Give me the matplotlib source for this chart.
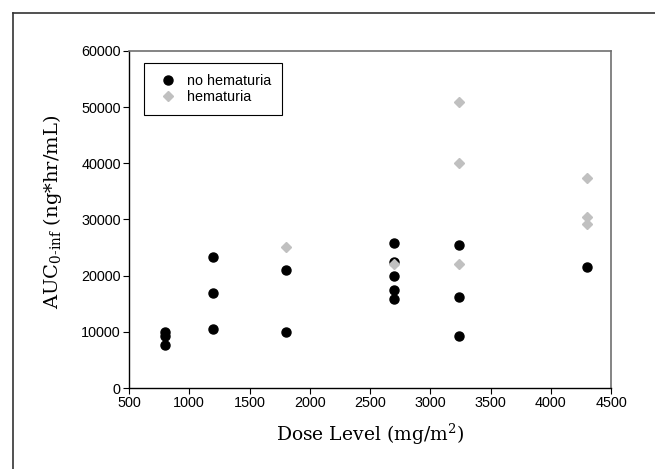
import matplotlib
matplotlib.use('Agg')
import matplotlib.pyplot as plt
from matplotlib.lines import Line2D

# data
no_hem_dose = [800, 800, 800, 1200, 1200, 1200, 1800, 1800,
               2700, 2700, 2700, 2700, 2700, 3240, 3240, 3240, 4300]
no_hem_auc = [10000, 9200, 7700, 23400, 17000, 10500, 21000, 9900,
              25900, 22400, 20000, 17400, 15800, 25400, 16200, 9300, 21600]
hem_dose = [1800, 2700, 3240, 3240, 3240, 4300, 4300, 4300]
hem_auc = [25100, 22100, 51000, 40100, 22100, 37300, 30500, 29200]

x_ticks = [500, 1000, 1500, 2000, 2500, 3000, 3500, 4000, 4500]
y_ticks = [0, 10000, 20000, 30000, 40000, 50000, 60000]

plt.rcParams['font.family'] = 'Liberation Sans'
plt.rcParams['mathtext.fontset'] = 'custom'
plt.rcParams['mathtext.rm'] = 'DejaVu Serif'
plt.rcParams['mathtext.it'] = 'DejaVu Serif:italic'

fig = plt.figure(figsize=(6.55, 4.69), dpi=100)
ax = fig.add_axes([129 / 655, 1 - 388 / 469, 482 / 655, 337 / 469])

ax.plot(no_hem_dose, no_hem_auc, 'o', color='black', markersize=6.5,
        label='no hematuria', zorder=3)
ax.plot(hem_dose, hem_auc, 'D', color='#c0c0c0', markersize=5.5,
        label='hematuria', zorder=4)

ax.set_xlim(500, 4500)
ax.set_ylim(0, 60000)
ax.set_xticks(x_ticks)
ax.set_yticks(y_ticks)
ax.tick_params(labelsize=10.4, length=4, width=0.8, direction='out', pad=2)

# spines
for side in ['top', 'right']:
    ax.spines[side].set_color('#707070')
    ax.spines[side].set_linewidth(1.2)
for side in ['left', 'bottom']:
    ax.spines[side].set_color('black')
    ax.spines[side].set_linewidth(1.0)

serif = 'DejaVu Serif'
ax.set_xlabel('Dose Level (mg/m$^2$)', fontsize=13.5, family=serif, labelpad=8)
ax.set_ylabel(r'AUC$_{\text{0-inf}}$ (ng*hr/mL)', fontsize=14, family=serif)
ax.yaxis.set_label_coords(-0.135, 0.522)

leg = ax.legend(loc='upper left', bbox_to_anchor=(0.031, 0.964),
                borderaxespad=0, fancybox=False, edgecolor='black',
                fontsize=10.4, borderpad=0.75, handlelength=1.8,
                handletextpad=0.4, labelspacing=0.15, framealpha=1)
leg.get_frame().set_linewidth(0.8)

# outer frame (open at right and bottom as in the cropped figure)
fig.add_artist(Line2D([12.5 / 655, 12.5 / 655], [0, 1 - 13 / 469],
                      transform=fig.transFigure, color='#333333', lw=1.2))
fig.add_artist(Line2D([12.5 / 655, 1], [1 - 13 / 469, 1 - 13 / 469],
                      transform=fig.transFigure, color='#333333', lw=1.2))

fig.savefig('out.png', dpi=100)
